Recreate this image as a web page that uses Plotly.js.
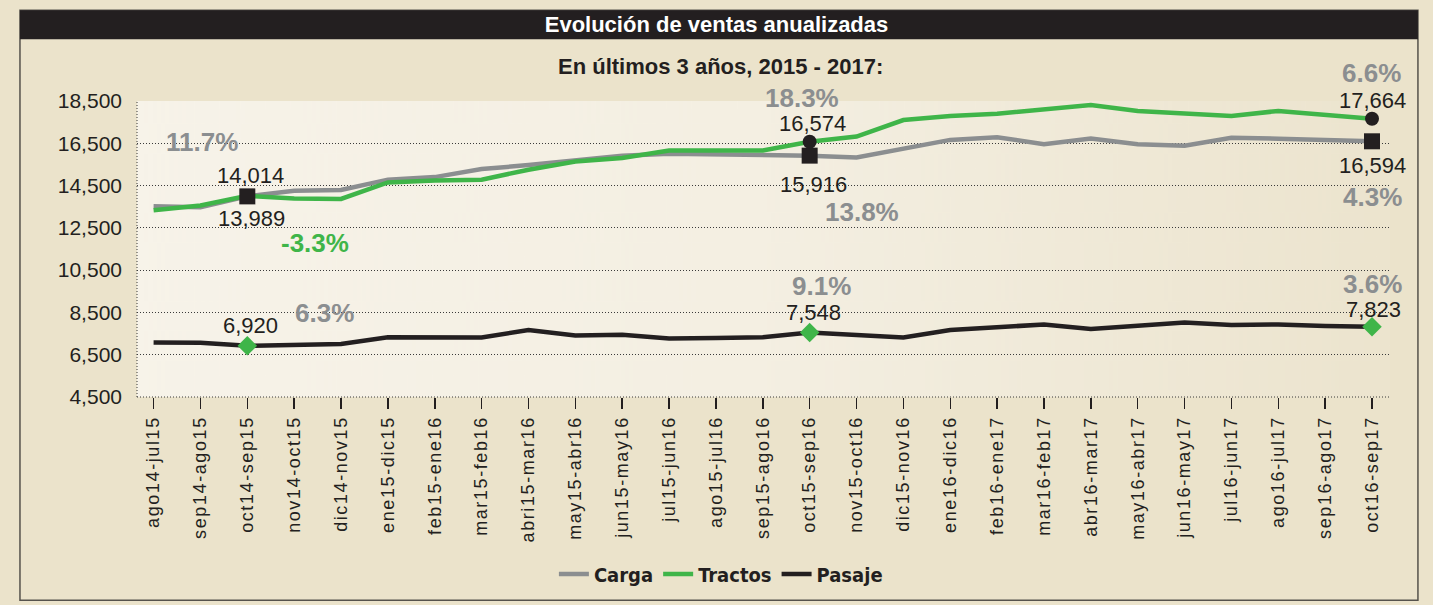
<!DOCTYPE html>
<html>
<head>
<meta charset="utf-8">
<script src="https://cdn.plot.ly/plotly-3.0.1.min.js"></script>
<style>
html,body{margin:0;padding:0;background:#ebe3cb;}
#chart{width:1433px;height:605px;}
.xtick text{letter-spacing:1.6px;}
</style>
</head>
<body>
<div id="chart"></div>
<script>
const categories = ['ago14-jul15','sep14-ago15','oct14-sep15','nov14-oct15','dic14-nov15','ene15-dic15','feb15-ene16','mar15-feb16','abri15-mar16','may15-abr16','jun15-may16','jul15-jun16','ago15-jul16','sep15-ago16','oct15-sep16','nov15-oct16','dic15-nov16','ene16-dic16','feb16-ene17','mar16-feb17','abr16-mar17','may16-abr17','jun16-may17','jul16-jun17','ago16-jul17','sep16-ago17','oct16-sep17'];
const carga   = [13520,13480,13989,14250,14290,14780,14900,15280,15470,15670,15910,16000,15970,15970,15916,15830,16270,16660,16790,16460,16720,16460,16380,16760,16720,16680,16594];
const tractos = [13330,13560,14014,13890,13870,14650,14745,14780,15250,15640,15800,16160,16160,16160,16574,16820,17600,17790,17900,18110,18310,18030,17920,17790,18030,17870,17664];
const pasaje  = [7080,7070,6920,6990,7010,7330,7330,7315,7670,7410,7440,7270,7285,7330,7548,7410,7315,7670,7780,7930,7715,7870,8020,7900,7930,7855,7823];
const markIdx = [2,14,26];
const tractosMarkIdx = [14,26];
const pctCarga   = ['11.7%','13.8%','4.3%'];
const pctTractos = ['-3.3%','18.3%','6.6%'];
const pctPasaje  = ['6.3%','9.1%','3.6%'];

const GRAY = '#8b8e90', GREEN = '#3fb549', BLACK = '#231f20';
const FONT = 'Liberation Sans, Arial, Helvetica, sans-serif';
const NARROW = 'Liberation Sans Narrow, Arial Narrow, DejaVu Sans Condensed, sans-serif';

// gradient background for plot area
const cv = document.createElement('canvas');
cv.width = 600; cv.height = 20;
const ctx = cv.getContext('2d');
const g = ctx.createLinearGradient(0,0,600,0);
g.addColorStop(0,'#f7f3e9');
g.addColorStop(0.5,'#f4efe2');
g.addColorStop(1,'#ece4ce');
ctx.fillStyle = g; ctx.fillRect(0,0,600,20);
const bgURL = cv.toDataURL('image/png');

const pick = (arr, idx) => idx.map(i => arr[i]);
const fmt = v => v.toLocaleString('en-US');

const traces = [
  {x: categories, y: carga, name: 'Carga', mode: 'lines', line: {color: GRAY, width: 4.5}},
  {x: categories, y: tractos, name: 'Tractos', mode: 'lines', line: {color: GREEN, width: 4.5}},
  {x: categories, y: pasaje, name: 'Pasaje', mode: 'lines', line: {color: BLACK, width: 4.5}},
  {x: pick(categories, markIdx), y: pick(carga, markIdx), mode: 'markers', showlegend: false,
   marker: {symbol: 'square', size: 16, color: BLACK}},
  {x: pick(categories, tractosMarkIdx), y: pick(tractos, tractosMarkIdx), mode: 'markers', showlegend: false,
   marker: {symbol: 'circle', size: 14, color: BLACK}},
  {x: pick(categories, markIdx), y: pick(pasaje, markIdx), mode: 'markers', showlegend: false,
   marker: {symbol: 'diamond', size: 15, color: GREEN}}
];

const ann = [];
const valFont = {family: FONT, size: 22, color: BLACK};
// value labels
ann.push({x: 2, y: tractos[2], text: fmt(tractos[2]), yshift: 20, xshift: 3});
ann.push({x: 2, y: carga[2], text: fmt(carga[2]), yshift: -22, xshift: 4});
ann.push({x: 14, y: tractos[14], text: fmt(tractos[14]), yshift: 18, xshift: 3});
ann.push({x: 14, y: carga[14], text: fmt(carga[14]), yshift: -29, xshift: 4});
ann.push({x: 26, y: tractos[26], text: fmt(tractos[26]), yshift: 18});
ann.push({x: 26, y: carga[26], text: fmt(carga[26]), yshift: -24});
ann.push({x: 2, y: pasaje[2], text: fmt(pasaje[2]), yshift: 20, xshift: 3});
ann.push({x: 14, y: pasaje[14], text: fmt(pasaje[14]), yshift: 20, xshift: 4});
ann.push({x: 26, y: pasaje[26], text: fmt(pasaje[26]), yshift: 17, xshift: 1});
ann.forEach(a => { a.xref = 'x'; a.yref = 'y'; a.showarrow = false; a.font = valFont; });

const pctFont = c => ({family: FONT, size: 26, color: c, weight: 'bold'});
const pct = [
  {x: 1.04, y: 16544, text: pctCarga[0], c: GRAY},
  {x: 15.12, y: 13268, text: pctCarga[1], c: GRAY},
  {x: 26.0, y: 13975, text: pctCarga[2], c: GRAY},
  {x: 3.44, y: 11807, text: pctTractos[0], c: GREEN},
  {x: 13.84, yp: 1.011, text: pctTractos[1], c: GRAY},
  {x: 25.98, yp: 1.0943, text: pctTractos[2], c: GRAY},
  {x: 3.64, y: 8460, text: pctPasaje[0], c: GRAY},
  {x: 14.26, y: 9733, text: pctPasaje[1], c: GRAY},
  {x: 26.0, y: 9860, text: pctPasaje[2], c: GRAY}
];
pct.forEach(p => ann.push({x: p.x, y: (p.yp !== undefined ? p.yp : p.y), xref: 'x',
  yref: (p.yp !== undefined ? 'paper' : 'y'), text: '<b>' + p.text + '</b>',
  xanchor: 'center', yanchor: 'middle',
  showarrow: false, font: pctFont(p.c)}));

// subtitle
ann.push({xref: 'paper', yref: 'paper', x: 0.4653, y: 1.1178, text: '<b>En últimos 3 años, 2015 - 2017:</b>',
  showarrow: false, font: {family: FONT, size: 22, color: BLACK}, xanchor: 'center', yanchor: 'middle'});

const dotted = {color: '#3a3a3a', width: 1, dash: '1px,2px'};
const shapes = [
  // outer frame
  {type: 'rect', xref: 'paper', yref: 'paper', x0: -0.0934, x1: 1.0223, y0: -0.6869, y1: 1.3064,
   line: {color: '#55524c', width: 1.5}, fillcolor: 'rgba(0,0,0,0)', layer: 'below'},
  // title bar
  {type: 'rect', xref: 'paper', yref: 'paper', x0: -0.0934, x1: 1.0223, y0: 1.2088, y1: 1.3064,
   line: {width: 0}, fillcolor: BLACK, layer: 'below'},
  // left dotted axis
  {type: 'line', xref: 'paper', yref: 'paper', x0: 0, x1: 0, y0: 0, y1: 1, line: dotted},
  // bottom dotted axis
  {type: 'line', xref: 'paper', yref: 'paper', x0: 0, x1: 1, y0: 0, y1: 0, line: dotted}
];

const layout = {
  width: 1433, height: 605,
  paper_bgcolor: '#ebe3cb', plot_bgcolor: '#f4efe2',
  margin: {l: 137, r: 43, t: 101, b: 206, pad: 0},
  title: {text: '<b>Evolución de ventas anualizadas</b>', x: 0.5, xref: 'container', xanchor: 'center',
    y: 0.9595, yref: 'container', yanchor: 'middle',
    font: {family: FONT, size: 22, color: '#ffffff'}},
  xaxis: {type: 'category', range: [-0.354, 26.384], showgrid: false, zeroline: false, showline: false,
    ticks: 'outside', ticklen: 11, tickwidth: 1.5, tickcolor: BLACK, tickangle: -90,
    tickfont: {family: FONT, size: 18, color: BLACK}, fixedrange: true},
  yaxis: {range: [4500, 18500], tick0: 4500, dtick: 2000, tickformat: ',d', showgrid: true,
    gridcolor: '#3a3a3a', gridwidth: 1, griddash: '1px,2px', zeroline: false, showline: false,
    ticks: '', ticklabelstandoff: 14, tickfont: {family: FONT, size: 21, color: BLACK}, fixedrange: true},
  legend: {orientation: 'h', x: 0.466, xanchor: 'center', y: -0.598, yanchor: 'middle',
    bgcolor: 'rgba(0,0,0,0)', font: {family: NARROW, size: 20, color: BLACK, weight: 'bold'},
    itemclick: false, itemdoubleclick: false},
  annotations: ann,
  shapes: shapes,
  images: [{source: bgURL, xref: 'paper', yref: 'paper', x: 0, y: 1, sizex: 1, sizey: 1,
    sizing: 'stretch', xanchor: 'left', yanchor: 'top', layer: 'below'}],
  showlegend: true,
  hovermode: false
};

Plotly.newPlot('chart', traces, layout, {displayModeBar: false, staticPlot: true});
</script>
</body>
</html>
